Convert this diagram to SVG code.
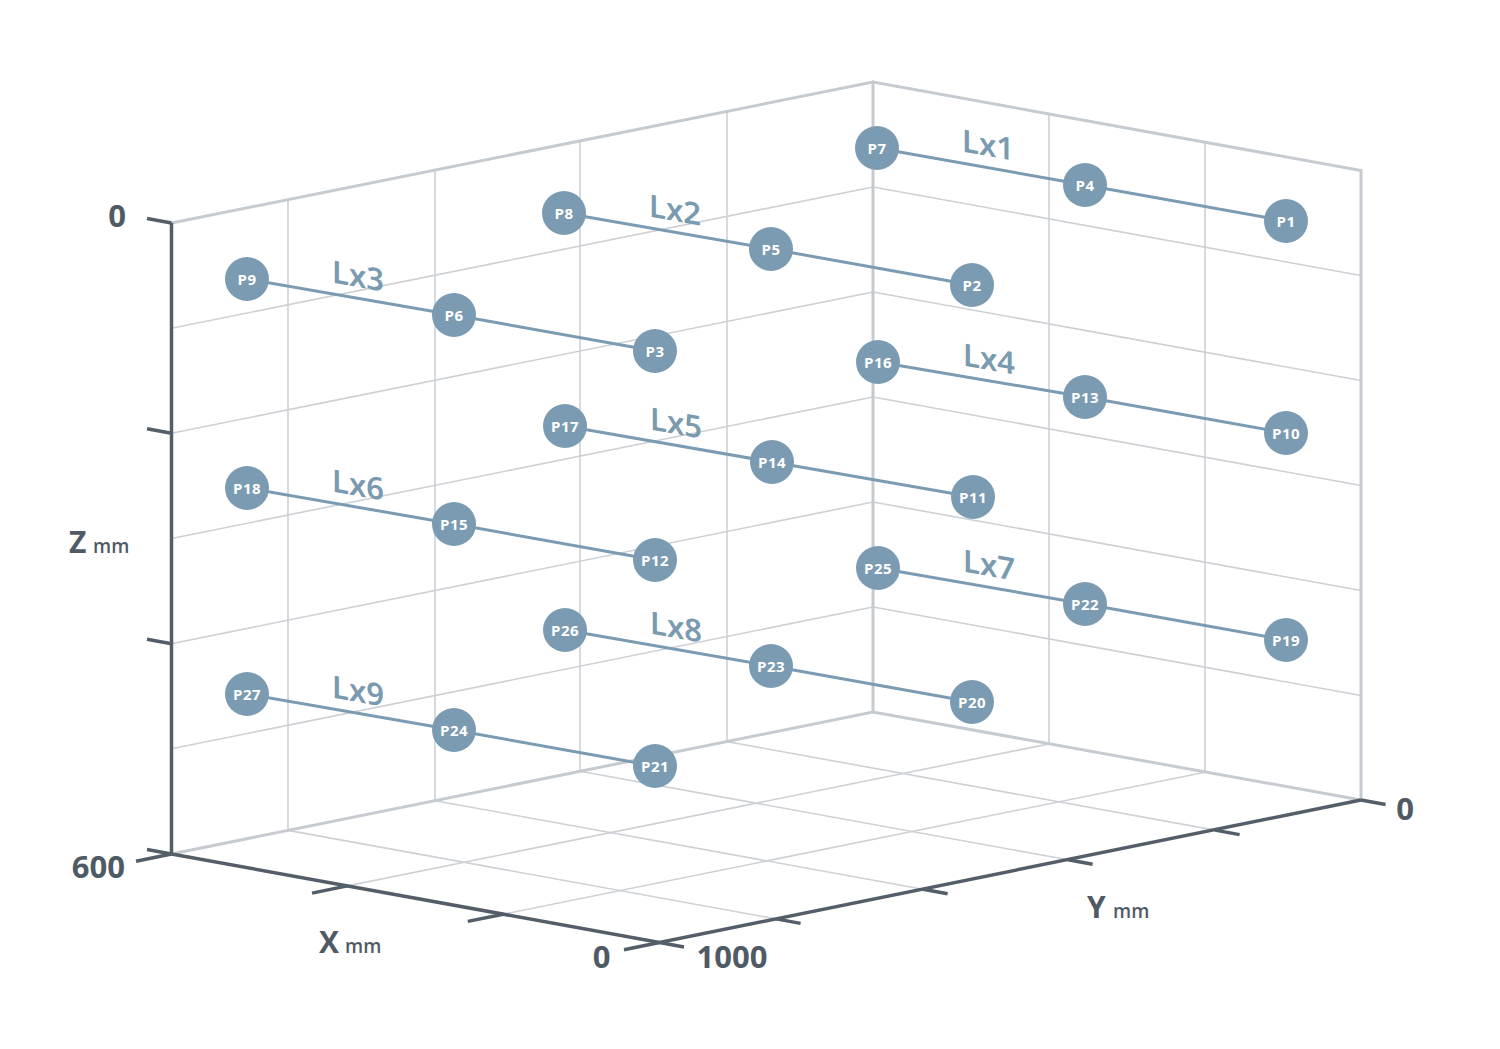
<svg xmlns="http://www.w3.org/2000/svg" width="1500" height="1049" viewBox="0 0 1500 1049">
<style>
.edge{stroke:#c6cbd1;stroke-width:3;fill:none;stroke-linecap:round}
.grid{stroke:#cdd1d6;stroke-width:1.6;fill:none}
.axis{stroke:#535e69;stroke-width:3.5;fill:none;stroke-linecap:butt}
.conn{stroke:#7b9bb2;stroke-width:3;fill:none}
.node circle{fill:#7b9bb2}
.node text{fill:#ffffff;font-family:"Open Sans","Noto Sans",sans-serif;font-weight:700;font-size:15px;letter-spacing:0.4px;text-anchor:middle}
.lx{fill:#7a9ab0;font-family:"Noto Sans","Open Sans",sans-serif;font-weight:600;font-size:31px;text-anchor:middle}
.num{fill:#4f5a65;font-family:"Open Sans","Noto Sans",sans-serif;font-weight:700;font-size:31px}
.ax{fill:#4f5a65;font-family:"Open Sans","Noto Sans",sans-serif;font-weight:700;font-size:30px}
.unit{font-weight:600;font-size:19px}
</style>
<rect width="1500" height="1049" fill="#ffffff"/>
<g id="grid">
<path class="grid" d="M727,111.3V741.6M580,140.9V771.3M435,170V800.7M288,199.6V830.4"/>
<path class="grid" d="M171.5,328.2L873,187M171.5,433.3L873,292M171.5,538.5L873,397M171.5,643.7L873,502M171.5,748.8L873,607"/>
<path class="grid" d="M1049,114V744M1205,142.4V772.4"/>
<path class="grid" d="M873,187L1361,275.5M873,292L1361,380.5M873,397L1361,485.5M873,502L1361,590.5M873,607L1361,695.5"/>
<path class="grid" d="M727,741.6L1215,830.1M580,771.3L1068,859.8M435,800.7L923,889.2M288,830.4L776,918.9"/>
<path class="grid" d="M347.5,885.9L1049,743.9M503.3,914.2L1205,772.2"/>
<path class="edge" d="M171.5,223L873,82L1361,170.5V800M873,82V712M171.5,854L873,712L1361,800"/>
</g>
<g id="axes">
<path class="axis" d="M171.5,223V854M171.5,854L659.5,942.5L1361,800"/>
<path class="axis" d="M171.5,223L147,218.5M171.5,433.3L147,428.8M171.5,643.7L147,639.2M171.5,854L147,849.5"/>
<path class="axis" d="M171.5,854L136,861.2M347.5,885.9L312,893.1M503.3,914.2L467.8,921.4M659.5,942.5L624,949.7"/>
<path class="axis" d="M659.5,942.5L684,947M776,918.9L800.6,923.4M923,889.2L947.6,893.7M1068,859.8L1092.6,864.3M1215,830.1L1239.6,834.6M1361,800L1385.6,804.5"/>
<text class="num" x="117" y="227" text-anchor="middle">0</text>
<text class="num" x="125" y="878" text-anchor="end">600</text>
<text class="num" x="601.5" y="968" text-anchor="middle">0</text>
<text class="num" x="732" y="968" text-anchor="middle">1000</text>
<text class="num" x="1405" y="820" text-anchor="middle">0</text>
<text class="ax" x="69" y="553">Z<tspan class="unit" x="93">mm</tspan></text>
<text class="ax" x="319" y="953">X<tspan class="unit" x="345">mm</tspan></text>
<text class="ax" x="1087" y="918">Y<tspan class="unit" x="1113">mm</tspan></text>
</g>
<g id="connectors">
<path id="Lx1-line" class="conn" d="M877,148L1085,185L1286,221"/>
<path id="Lx2-line" class="conn" d="M564,213L771,249L972,285"/>
<path id="Lx3-line" class="conn" d="M247,279L454,315L655,351"/>
<path id="Lx4-line" class="conn" d="M878,362L1085,397L1286,433"/>
<path id="Lx5-line" class="conn" d="M565,426L772,462L973,497"/>
<path id="Lx6-line" class="conn" d="M247,488L454,524L655,560"/>
<path id="Lx7-line" class="conn" d="M878,568L1085,604L1286,640"/>
<path id="Lx8-line" class="conn" d="M565,630L771,666L972,702"/>
<path id="Lx9-line" class="conn" d="M247,694L454,730L655,766"/>
<text class="lx" transform="translate(988,145) skewY(10)" y="11">Lx1</text>
<text class="lx" transform="translate(675,210) skewY(10)" y="11">Lx2</text>
<text class="lx" transform="translate(358,276) skewY(10)" y="11">Lx3</text>
<text class="lx" transform="translate(989,359) skewY(10)" y="11">Lx4</text>
<text class="lx" transform="translate(676,423) skewY(10)" y="11">Lx5</text>
<text class="lx" transform="translate(358,485) skewY(10)" y="11">Lx6</text>
<text class="lx" transform="translate(989,565) skewY(10)" y="11">Lx7</text>
<text class="lx" transform="translate(676,627) skewY(10)" y="11">Lx8</text>
<text class="lx" transform="translate(358,691) skewY(10)" y="11">Lx9</text>
</g>
<g id="nodes">
<g id="P7" class="node"><circle cx="877" cy="148" r="22"/><text x="877" y="153.5">P7</text></g>
<g id="P4" class="node"><circle cx="1085" cy="185" r="22"/><text x="1085" y="190.5">P4</text></g>
<g id="P1" class="node"><circle cx="1286" cy="221" r="22"/><text x="1286" y="226.5">P1</text></g>
<g id="P8" class="node"><circle cx="564" cy="213" r="22"/><text x="564" y="218.5">P8</text></g>
<g id="P5" class="node"><circle cx="771" cy="249" r="22"/><text x="771" y="254.5">P5</text></g>
<g id="P2" class="node"><circle cx="972" cy="285" r="22"/><text x="972" y="290.5">P2</text></g>
<g id="P9" class="node"><circle cx="247" cy="279" r="22"/><text x="247" y="284.5">P9</text></g>
<g id="P6" class="node"><circle cx="454" cy="315" r="22"/><text x="454" y="320.5">P6</text></g>
<g id="P3" class="node"><circle cx="655" cy="351" r="22"/><text x="655" y="356.5">P3</text></g>
<g id="P16" class="node"><circle cx="878" cy="362" r="22"/><text x="878" y="367.5">P16</text></g>
<g id="P13" class="node"><circle cx="1085" cy="397" r="22"/><text x="1085" y="402.5">P13</text></g>
<g id="P10" class="node"><circle cx="1286" cy="433" r="22"/><text x="1286" y="438.5">P10</text></g>
<g id="P17" class="node"><circle cx="565" cy="426" r="22"/><text x="565" y="431.5">P17</text></g>
<g id="P14" class="node"><circle cx="772" cy="462" r="22"/><text x="772" y="467.5">P14</text></g>
<g id="P11" class="node"><circle cx="973" cy="497" r="22"/><text x="973" y="502.5">P11</text></g>
<g id="P18" class="node"><circle cx="247" cy="488" r="22"/><text x="247" y="493.5">P18</text></g>
<g id="P15" class="node"><circle cx="454" cy="524" r="22"/><text x="454" y="529.5">P15</text></g>
<g id="P12" class="node"><circle cx="655" cy="560" r="22"/><text x="655" y="565.5">P12</text></g>
<g id="P25" class="node"><circle cx="878" cy="568" r="22"/><text x="878" y="573.5">P25</text></g>
<g id="P22" class="node"><circle cx="1085" cy="604" r="22"/><text x="1085" y="609.5">P22</text></g>
<g id="P19" class="node"><circle cx="1286" cy="640" r="22"/><text x="1286" y="645.5">P19</text></g>
<g id="P26" class="node"><circle cx="565" cy="630" r="22"/><text x="565" y="635.5">P26</text></g>
<g id="P23" class="node"><circle cx="771" cy="666" r="22"/><text x="771" y="671.5">P23</text></g>
<g id="P20" class="node"><circle cx="972" cy="702" r="22"/><text x="972" y="707.5">P20</text></g>
<g id="P27" class="node"><circle cx="247" cy="694" r="22"/><text x="247" y="699.5">P27</text></g>
<g id="P24" class="node"><circle cx="454" cy="730" r="22"/><text x="454" y="735.5">P24</text></g>
<g id="P21" class="node"><circle cx="655" cy="766" r="22"/><text x="655" y="771.5">P21</text></g>
</g>
</svg>
